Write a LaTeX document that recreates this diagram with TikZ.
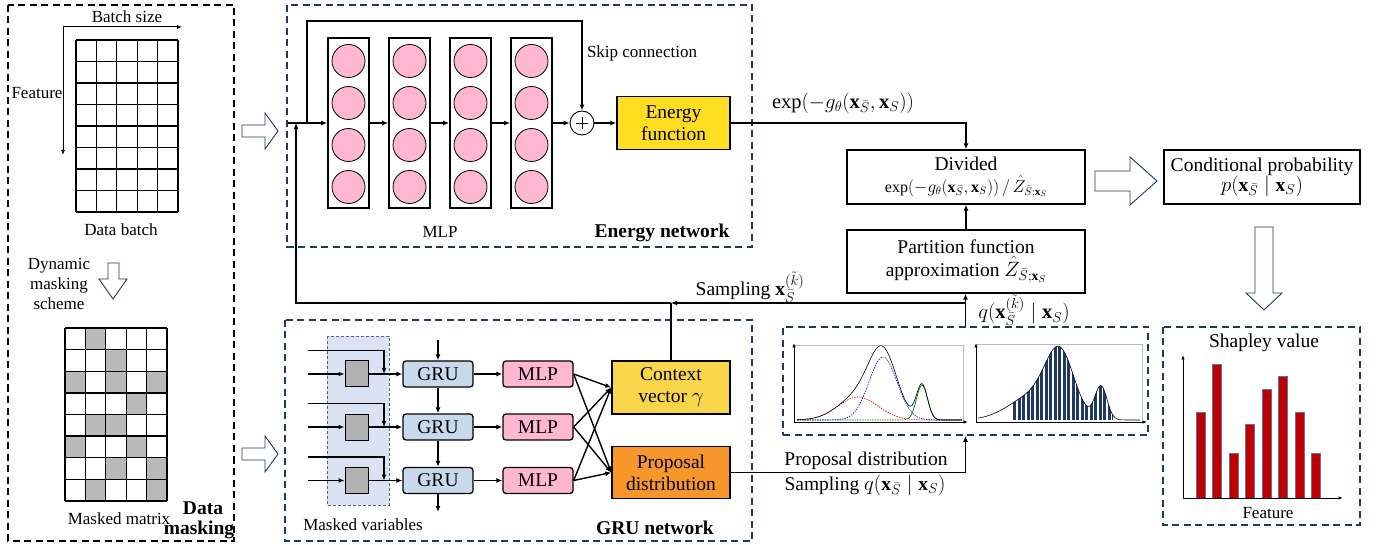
\documentclass[tikz,border=0pt]{standalone}
\usepackage{fontspec}
\setmainfont{Liberation Serif}
\usetikzlibrary{arrows.meta,calc}
\definecolor{navy}{HTML}{203864}
\definecolor{pinkc}{HTML}{FFB7D1}
\definecolor{grub}{HTML}{C9D9EC}
\definecolor{maskb}{HTML}{DAE3F3}
\definecolor{yel}{HTML}{FFDE21}
\definecolor{ctxy}{HTML}{F9D54A}
\definecolor{orng}{HTML}{F7962B}
\definecolor{barred}{HTML}{C00000}
\begin{document}
\begin{tikzpicture}[x=1pt,y=-1pt,
  declare function={
    bl(\x)=63*exp(-0.5*((\x-883)/14)^2);
    rd(\x)=23*exp(-0.5*((\x-858)/20)^2);
    gr(\x)=35*exp(-0.5*((\x-922)/5.5)^2);
    rr(\x)=58*exp(-0.5*((\x-1060)/14)^2)+25*exp(-0.5*((\x-1035)/25)^2)+33*exp(-0.5*((\x-1101)/6)^2);
  },
  every node/.style={font=\fontsize{19.5}{22}\selectfont},
  small/.style={font=\fontsize{17}{19}\selectfont},
  bold/.style={font=\fontsize{19.5}{22}\selectfont\bfseries},
  mathl/.style={font=\fontsize{20.5}{23}\selectfont},
  ln/.style={line width=1.4pt},
  conn/.style={line width=1.4pt,-{Latex[length=6pt,width=5pt]}},
  axarr/.style={line width=1pt,-{Latex[length=5pt,width=4pt]}},
  frame/.style={draw=navy,line width=1.5pt,dash pattern=on 7pt off 4.5pt},
  hollow/.style={draw=navy,fill=white,line width=0.9pt,line join=miter},
  boxn/.style={draw,line width=1.4pt,align=center,inner sep=1pt},
  colbox/.style={draw,line width=1.6pt,minimum width=41,minimum height=170,inner sep=0},
  neuron/.style={circle,draw,line width=0.8pt,fill=pinkc,minimum size=33,inner sep=0},
  gridc/.style={line width=1.3pt},
  sqbox/.style={draw,line width=1pt,fill=gray!60,minimum width=23,minimum height=26,inner sep=0},
  grubox/.style={draw,line width=1.3pt,fill=grub,rounded corners=3pt,minimum width=70,minimum height=26,inner sep=0},
  mlpbox/.style={draw,line width=1.3pt,fill=pinkc,rounded corners=3pt,minimum width=70,minimum height=26,inner sep=0},
  plotax/.style={line width=0.9pt,-{Latex[length=4.5pt,width=3.5pt]}},
]
\useasboundingbox (0,0) rectangle (1385,545);

% ---------------- Data masking ----------------
\draw[line width=1.5pt,dash pattern=on 7pt off 4.5pt] (8,5) rectangle (234,541);
\foreach \i in {0,...,5} \draw[gridc] (76+20.4*\i,40) -- (76+20.4*\i,212);
\foreach \j in {0,...,8} \draw[gridc] (76,40+21.5*\j) -- (178,40+21.5*\j);
\coordinate (ax0) at (63,27);
\coordinate (axr) at (182,27);
\coordinate (axd) at (63,155);
\draw[axarr] (ax0) -- (axr);
\draw[axarr] (ax0) -- (axd);
\node[small] (bs) at (127,17) {Batch size};
\node[small] (feat) at (37,93) {Feature};
\node[small] (db) at (121,230) {Data batch};
\node[small,align=center] (dyn) at (59,284) {Dynamic\\[1pt]masking\\[1pt]scheme};
\draw[hollow] (108,263) -- (119,263) -- (119,279) -- (127,279) -- (113,299) -- (99,279) -- (108,279) -- cycle;
\foreach \r/\c in {0/1,1/2,2/0,2/2,2/4,3/3,4/1,4/2,5/0,5/3,6/2,6/4,7/1,7/4}
  \fill[gray!55] (65+20.4*\c,328+21.625*\r) rectangle ++(20.4,21.625);
\foreach \i in {0,...,5} \draw[gridc] (65+20.4*\i,328) -- (65+20.4*\i,501);
\foreach \j in {0,...,8} \draw[gridc] (65,328+21.625*\j) -- (167,328+21.625*\j);
\node[small] (mm) at (119,519) {Masked matrix};
\node[bold] (dm1) at (203,508) {Data};
\node[bold] (dm2) at (199,530) {masking};

% hollow arrows into networks
\draw[hollow] (242,125) -- (265,125) -- (265,113) -- (278,131) -- (265,149) -- (265,137) -- (242,137) -- cycle;
\draw[hollow] (242,448) -- (265,448) -- (265,436) -- (278,454) -- (265,472) -- (265,460) -- (242,460) -- cycle;

% ---------------- Energy network ----------------
\draw[frame] (287,5) rectangle (752,247);
\foreach \i/\cx in {1/348.5,2/409.5,3/470.5,4/531.5} {
  \node[colbox] (c\i) at (\cx,123) {};
  \foreach \j/\cy in {1/61,2/103,3/145,4/187}
    \node[neuron] (n\i\j) at (\cx,\cy) {};
}
\node[circle,draw,line width=0.9pt,minimum size=24,inner sep=0] (plus) at (582,123) {};
\draw[line width=0.6pt] ($(plus.center)+(-6,0)$) -- ($(plus.center)+(6,0)$);
\draw[line width=0.6pt] ($(plus.center)+(0,-6)$) -- ($(plus.center)+(0,6)$);
\node[boxn,fill=yel,minimum width=113,minimum height=53] (energy) at (673.5,123) {Energy\\function};
\coordinate (in) at (288,123);
\coordinate (skA) at (307,123);
\coordinate (skB) at (307,21);
\draw[conn] (in) -- (c1.west);
\draw[conn] (c1.east) -- (c2.west);
\draw[conn] (c2.east) -- (c3.west);
\draw[conn] (c3.east) -- (c4.west);
\draw[conn] (c4.east) -- (plus.west);
\draw[conn] (plus.east) -- (energy.west);
\draw[conn] (skA) -- (skB) -| (plus.north);
\node[small] (skl) at (642,53) {Skip connection};
\node[small] (mlpl) at (440,232) {MLP};
\node[bold] (enl) at (662,233) {Energy network};

% ---------------- Right column ----------------
\node[boxn,minimum width=238,minimum height=54] (div) at (966,177)
  {Divided\\[0pt]{\fontsize{16}{18}\selectfont $\exp(-g_\theta(\mathbf{x}_{\bar S},\mathbf{x}_S))\,/\,\hat Z_{\bar S;\mathbf{x}_S}$}};
\node[boxn,minimum width=238,minimum height=63] (part) at (966,261.5)
  {Partition function\\[1pt]approximation $\hat Z_{\bar S;\mathbf{x}_S}$};
\draw[conn] (energy.east) -| (div.north);
\node[mathl] (expl) at (843,103) {$\exp(-g_\theta(\mathbf{x}_{\bar S},\mathbf{x}_S))$};
\draw[conn] (part.north) -- (div.south);

\node[boxn,minimum width=196,minimum height=54] (cond) at (1262,177)
  {Conditional probability\\[-2pt]$p(\mathbf{x}_{\bar S}\mid\mathbf{x}_S)$};
\draw[hollow] (1095,171) -- (1130,171) -- (1130,157) -- (1157,181) -- (1130,205) -- (1130,191) -- (1095,191) -- cycle;
\draw[hollow] (1255,227) -- (1273,227) -- (1273,293) -- (1282,293) -- (1264,310) -- (1246,293) -- (1255,293) -- cycle;

% distribution box
\node[frame,minimum width=365,minimum height=108,inner sep=0] (dist) at (965.5,381) {};
\coordinate (fb) at (dist.north |- 0,303);
\coordinate (fbL) at (296,303);
\draw[conn] (dist.north) -- (dist.north |- part.south);
\node[mathl] (ql) at (1024,310) {$q(\mathbf{x}_{\bar S}^{(\tilde k)}\mid\mathbf{x}_S)$};

% left plot
\draw[gray!55,line width=0.5pt] (794,345) -- (963,345) -- (963,422);
\draw[plotax] (794,422) -- (794,343);
\draw[plotax] (794,422) -- (968,422);
\draw[red,line width=0.6pt,dash pattern=on 1.5pt off 1pt] plot[domain=797:962,samples=70] (\x,{420-rd(\x)});
\draw[blue,line width=0.6pt,dash pattern=on 1.5pt off 1pt] plot[domain=797:962,samples=90] (\x,{420-bl(\x)});
\draw[green!45!black,line width=0.7pt,dash pattern=on 1.5pt off 1pt] plot[domain=797:908,samples=50] (\x,{420-gr(\x)});
\draw[green!45!black,line width=0.7pt] plot[domain=908:962,samples=50] (\x,{420-gr(\x)});
\draw[black,line width=0.6pt] plot[domain=797:962,samples=120] (\x,{420-bl(\x)-rd(\x)-gr(\x)});

% right plot
\draw[gray!55,line width=0.5pt] (976,344) -- (1142,344) -- (1142,422);
\begin{scope}
  \clip (1013,420) -- plot[domain=1013:1113,samples=80] (\x,{420-rr(\x)}) -- (1113,420) -- cycle;
  \foreach \x in {1013,1017.5,...,1113} \fill[navy] (\x,420) rectangle (\x+3,330);
\end{scope}
\draw[black,line width=0.6pt] plot[domain=978:1140,samples=120] (\x,{420-rr(\x)});
\draw[plotax] (976,422) -- (976,343);
\draw[plotax] (976,422) -- (1147,422);

% Shapley
\draw[frame] (1163,327) rectangle (1360,525);
\node (shl) at (1264,343) {Shapley value};
\foreach \k/\t in {0/412,1/364,2/453,3/424,4/389,5/376,6/412,7/453}
  \draw[fill=barred,draw=navy!70,line width=0.8pt] (1196+16.5*\k,498) rectangle (1205+16.5*\k,\t);
\draw[plotax] (1183,498) -- (1183,355);
\draw[plotax] (1183,498) -- (1343,498);
\node[small] (fl) at (1268,513) {Feature};

% ---------------- GRU network ----------------
\draw[frame] (285,320) rectangle (752,541);
\draw[draw=gray!60!navy,fill=maskb,line width=0.8pt,dash pattern=on 3pt off 2pt] (327,336) rectangle (389,505);
\node[boxn,fill=ctxy,minimum width=118,minimum height=53] (ctx) at (671,387.5) {Context\\vector $\gamma$};
\node[boxn,fill=orng,minimum width=118,minimum height=52] (prop) at (671,472.5) {Proposal\\distribution};
\foreach \i/\y in {1/374,2/427,3/480.5} {
  \node[sqbox] (m\i) at (356.5,\y) {};
  \node[grubox] (g\i) at (438,\y) {GRU};
  \node[mlpbox] (p\i) at (538,\y) {MLP};
  \coordinate (a\i) at (308,\y);
  \coordinate (b\i) at (308,\y-23.5);
  \coordinate (j\i) at (384,\y);
  \draw[conn] (a\i) -- (m\i.west);
  \draw[conn] (m\i.east) -- (g\i.west);
  \draw[conn] (b\i) -| (j\i);
  \draw[conn] (g\i.east) -- (p\i.west);
  \draw[conn] (p\i.east) -- (ctx.west);
  \draw[conn] (p\i.east) -- (prop.west);
}
\coordinate (gtop) at (438,340);
\coordinate (gbot) at (438,512);
\draw[conn] (gtop) -- (g1.north);
\draw[conn] (g1.south) -- (g2.north);
\draw[conn] (g2.south) -- (g3.north);
\draw[conn] (g3.south) -- (gbot);
\node[small] (mvl) at (363,525) {Masked variables};
\node[bold] (gnl) at (655,528) {GRU network};

% feedback sampling
\draw[conn] (fb) -- (ctx.north |- fb);
\draw[ln] (ctx.north) -- (ctx.north |- fb);
\draw[conn] (ctx.north |- fb) -- (fbL) -- (fbL |- in);
\node[mathl] (sml) at (750,287) {\fontsize{19.5}{22}\selectfont Sampling $\mathbf{x}_{\bar S}^{(\tilde k)}$};

% proposal to distribution
\draw[conn] (prop.east) -| (dist.south);
\node (pdl) at (866,461) {Proposal distribution};
\node (spl) at (865,485) {Sampling $q(\mathbf{x}_{\bar S}\mid\mathbf{x}_S)$};
\end{tikzpicture}
\end{document}
